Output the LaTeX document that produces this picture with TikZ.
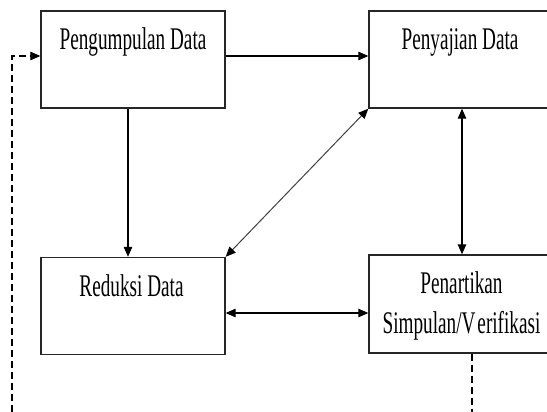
\documentclass[tikz,border=0pt]{standalone}
\usepackage{fontspec}
\newfontfamily\tekshuruf[FakeStretch=0.61]{Liberation Serif}
\usetikzlibrary{arrows.meta}

\tikzset{
  kotak/.style={draw=black!85, line width=1.4pt, minimum width=184pt, minimum height=97pt, inner sep=0pt},
  tulisan/.style={font=\tekshuruf\fontsize{31.5}{40}\selectfont, inner sep=0pt, align=center},
  ujung/.tip={Triangle[length=10pt,width=8.5pt]},
  ujunghitam/.tip={Triangle[length=10pt,width=8.5pt,color=black]},
  panah/.style={-ujung, line width=1.1pt},
  duapanah/.style={ujung-ujung, line width=1.1pt},
  putus/.style={panah, dash pattern=on 7pt off 4pt}
}

\begin{document}
\begin{tikzpicture}[x=1pt, y=1pt]
  \clip (0,0) rectangle (547,412);

  \node[kotak] (kumpul) at (133,352.5) {};
  \node[kotak] (saji)   at (461,352.5) {};
  \node[kotak] (reduksi) at (133,106) {};
  \node[kotak, minimum height=98pt] (tarik) at (461,108) {};

  \node[tulisan, anchor=base] (tkumpul) at (133,362) {Pengumpulan Data};
  \node[tulisan, anchor=base] (tsaji) at (460,362) {Penyajian Data};
  \node[tulisan, anchor=base] (treduksi) at (131.5,115) {Reduksi Data};
  \node[tulisan] (ttarik) at (461.5,106) {Penartikan\\Simpulan/V\kern2pt erifikasi};

  \coordinate (k1) at ([yshift=3.5pt]kumpul.east);
  \coordinate (k2) at ([yshift=3.5pt]kumpul.west);
  \coordinate (k3) at ([xshift=-5pt]kumpul.south);
  \coordinate (s1) at ([xshift=1pt]saji.south);
  \coordinate (r1) at ([yshift=-7pt]reduksi.east);
  \coordinate (t1) at ([xshift=11pt]tarik.south);
  \coordinate (kiri) at (12,0);
  \coordinate (bawah) at (472,0);

  \draw[panah] (k1) -- (k1 -| saji.west);
  \draw[panah] (k3) -- (k3 |- reduksi.north);
  \draw[duapanah] (s1) -- (s1 |- tarik.north);
  \draw[duapanah] (r1) -- (r1 -| tarik.west);
  \draw[ujunghitam-ujunghitam, draw=black!75, line width=1pt] (saji.south west) -- (reduksi.north east);

  \draw[putus] (kiri) |- (k2);
  \draw[putus, -] (t1) -- (bawah);
\end{tikzpicture}
\end{document}
